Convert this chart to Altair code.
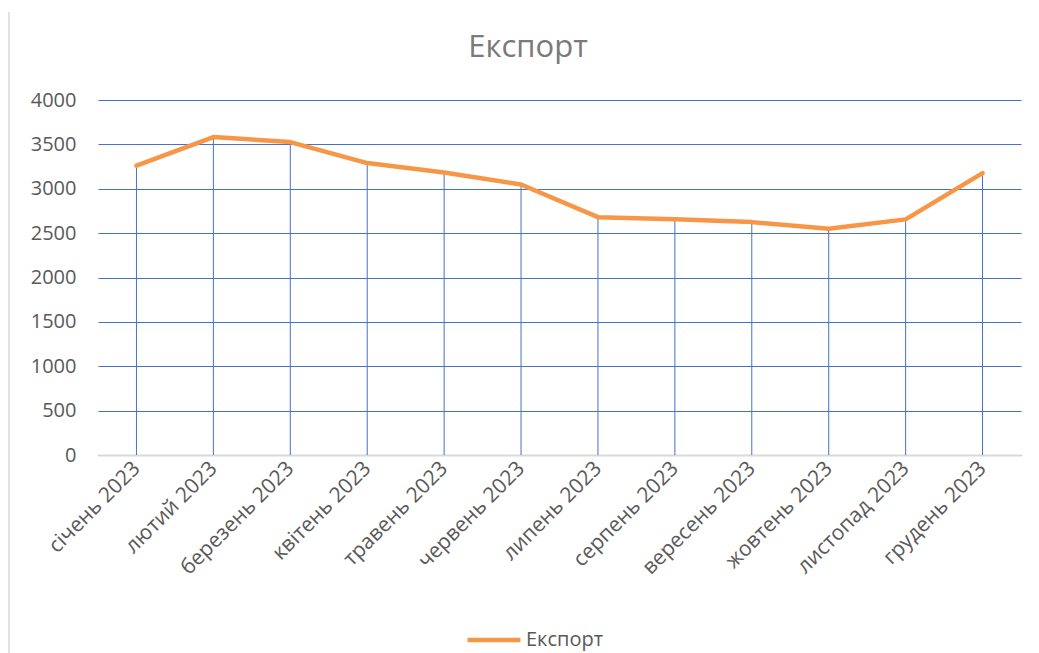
import altair as alt
import pandas as pd

months = ["січень 2023", "лютий 2023", "березень 2023", "квітень 2023", "травень 2023",
          "червень 2023", "липень 2023", "серпень 2023", "вересень 2023", "жовтень 2023",
          "листопад 2023", "грудень 2023"]
export_values = [3260, 3582, 3526, 3289, 3184, 3048, 2680, 2655, 2624, 2550, 2655, 3176]
series_name = "Експорт"
y_ticks = [0, 500, 1000, 1500, 2000, 2500, 3000, 3500, 4000]

df = pd.DataFrame({"month": months, "value": export_values, "series": series_name})

FONT = "Open Sans"
W, H = 923, 355

xenc = alt.X("month:N", sort=months, title=None,
             scale=alt.Scale(type="point", padding=0.5),
             axis=alt.Axis(labelAngle=-45, labelAlign="right", labelBaseline="middle",
                           labelFontSize=21, labelColor="#595959", labelFont=FONT,
                           labelPadding=10, ticks=False, domainColor="#d9d9d9",
                           domainWidth=2, grid=False))
yenc = alt.Y("value:Q", title=None,
             scale=alt.Scale(domain=[0, 4000], nice=False),
             axis=alt.Axis(values=y_ticks, format="d", labelFontSize=20, labelColor="#595959",
                           labelFont=FONT, labelPadding=22, ticks=False, domain=False,
                           gridColor="#4472C4", gridWidth=1))

base = alt.Chart(df)

drops = base.mark_rule(color="#4472C4", strokeWidth=1).encode(
    x=xenc, y=yenc, y2=alt.datum(0))

line = base.mark_line(strokeWidth=4.5, strokeCap="round", strokeJoin="round").encode(
    x=xenc, y=yenc,
    color=alt.Color("series:N", title=None,
                    scale=alt.Scale(domain=[series_name], range=["#F79646"]),
                    legend=alt.Legend(orient="none", legendX=367, legendY=511,
                                      symbolType="stroke", symbolStrokeWidth=4.5,
                                      symbolSize=2800, labelFontSize=20, labelFont=FONT,
                                      labelColor="#595959", labelOffset=3)))

one = pd.DataFrame({"t": [series_name]})
title = alt.Chart(one).mark_text(fontSize=31, font=FONT, color="#7a7a7a",
                                 align="center", baseline="alphabetic").encode(
    text="t:N", x=alt.value(430), y=alt.value(-43))

border = alt.Chart(one).mark_rule(color="#d9d9d9", strokeWidth=1.5).encode(
    x=alt.value(-89), y=alt.value(-88), y2=alt.value(570))

chart = alt.layer(drops, line, title, border).properties(
    width=W, height=H,
    autosize=alt.AutoSizeParams(type="none"),
    padding={"left": 90, "top": 92, "right": 10, "bottom": 215},
).configure_view(stroke=None)

chart.save("out.html", embed_options={"renderer": "svg", "actions": False})
